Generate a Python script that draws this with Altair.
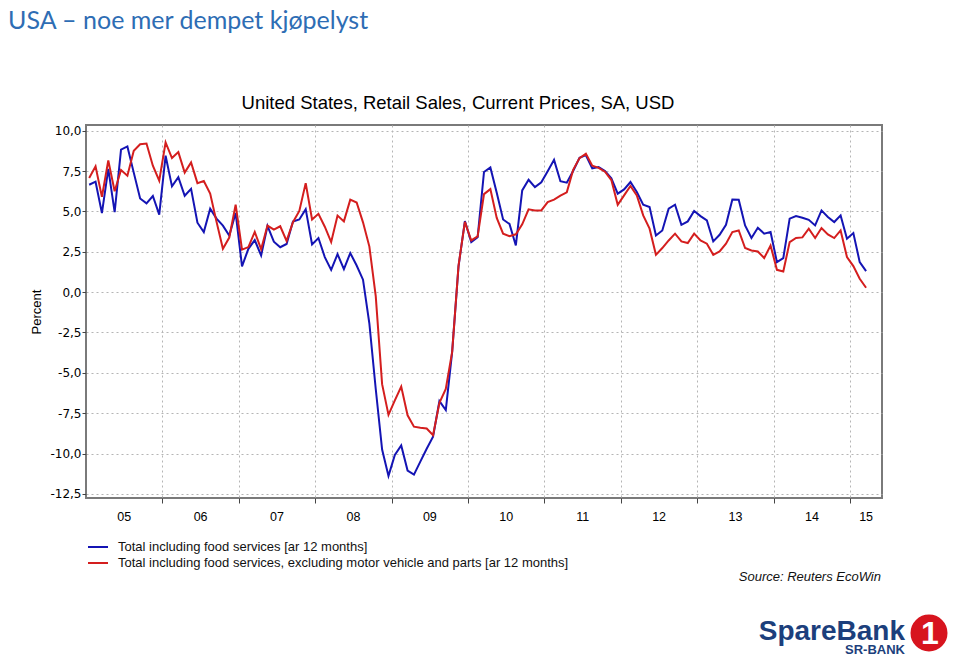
import altair as alt
import pandas as pd

# ---------------- data ----------------
START_YEAR = 2005          # first observation: Jan 2005, monthly
SERIES = [
    "Total including food services [ar 12 months]",
    "Total including food services, excluding motor vehicle and parts [ar 12 months]",
]
total = [
    6.65, 6.84, 4.89, 7.63, 4.95, 8.82, 9.02, 7.40, 5.80, 5.50, 5.95, 4.80,
    8.45, 6.55, 7.12, 5.97, 6.40, 4.30, 3.72, 5.17, 4.55, 4.12, 3.50, 4.90,
    1.60, 2.68, 3.22, 2.27, 4.10, 3.12, 2.78, 2.98, 4.37, 4.50, 5.14, 2.95,
    3.35, 2.17, 1.38, 2.35, 1.43, 2.42, 1.65, 0.77, -1.95, -6.00, -9.75, -11.38,
    -10.08, -9.50, -11.05, -11.30, -10.50, -9.70, -8.95, -6.75, -7.30, -3.70, 1.60, 4.40,
    3.10, 3.40, 7.44, 7.72, 6.15, 4.50, 4.22, 2.89, 6.30, 6.96, 6.50, 6.80,
    7.48, 8.19, 6.87, 6.78, 7.50, 8.32, 8.48, 7.66, 7.75, 7.50, 7.05, 6.10,
    6.36, 6.82, 6.20, 5.41, 5.27, 3.51, 3.82, 5.17, 5.41, 4.17, 4.38, 5.02,
    4.71, 4.44, 3.14, 3.55, 4.17, 5.74, 5.72, 4.13, 3.35, 3.99, 3.62, 3.72,
    1.86, 2.11, 4.55, 4.71, 4.61, 4.48, 4.13, 5.06, 4.65, 4.34, 4.75, 3.31,
    3.66, 1.86, 1.30,
]
ex_auto = [
    7.07, 7.79, 5.90, 8.15, 6.25, 7.56, 7.21, 8.75, 9.16, 9.20, 7.83, 6.90,
    9.27, 8.30, 8.67, 7.40, 8.03, 6.75, 6.88, 6.10, 4.35, 2.68, 3.38, 5.42,
    2.63, 2.79, 3.73, 2.66, 4.12, 3.87, 4.08, 3.17, 4.33, 5.03, 6.75, 4.50,
    4.85, 4.05, 3.10, 4.74, 4.38, 5.73, 5.55, 4.32, 2.82, -0.25, -5.70, -7.60,
    -6.70, -5.85, -7.63, -8.33, -8.40, -8.45, -8.86, -6.85, -6.00, -3.70, 1.64, 4.35,
    3.20, 3.45, 6.07, 6.38, 4.60, 3.62, 3.46, 3.58, 4.20, 5.13, 5.05, 5.06,
    5.58, 5.73, 5.97, 6.18, 7.57, 8.30, 8.57, 7.83, 7.70, 7.46, 6.94, 5.41,
    5.99, 6.57, 5.99, 4.75, 3.93, 2.31, 2.73, 3.20, 3.62, 3.14, 3.04, 3.62,
    3.20, 3.00, 2.31, 2.52, 3.00, 3.72, 3.82, 2.73, 2.58, 2.52, 2.11, 2.89,
    1.38, 1.28, 3.10, 3.35, 3.39, 3.93, 3.35, 3.97, 3.57, 3.35, 3.82, 2.17,
    1.61, 0.83, 0.27,
]
year_labels = ["05", "06", "07", "08", "09", "10", "11", "12", "13", "14", "15"]
y_ticks = [-12.5, -10.0, -7.5, -5.0, -2.5, 0.0, 2.5, 5.0, 7.5, 10.0]

# ---------------- styling ----------------
BLUE = "#1414b4"
RED = "#d41e1e"
FONT = "Liberation Sans"
X_DOMAIN = [2005.0, 2015.0 + 5 / 12]
Y_DOMAIN = [-12.75, 10.35]
W, H = 796, 373

n = len(total)
t = [START_YEAR + (i + 0.5) / 12 for i in range(n)]
df = pd.DataFrame({
    "t": t + t,
    "v": total + ex_auto,
    "s": [SERIES[0]] * n + [SERIES[1]] * n,
})

lines = alt.Chart(df).mark_line(strokeWidth=2).encode(
    x=alt.X("t:Q",
            scale=alt.Scale(domain=X_DOMAIN, nice=False, zero=False),
            axis=alt.Axis(values=list(range(2006, 2016)), labels=False, tickSize=5,
                          tickColor="#444", grid=True, gridDash=[2, 3],
                          gridColor="#b5b5b5", domain=False, title=None)),
    y=alt.Y("v:Q",
            scale=alt.Scale(domain=Y_DOMAIN, nice=False, zero=False),
            axis=alt.Axis(values=y_ticks, tickSize=4, tickColor="#444", labelPadding=1,
                          labelFont="DejaVu Sans", labelFontSize=12,
                          labelExpr="(datum.value < 0 ? '-' : '') + replace(format(abs(datum.value), '.1f'), '.', ',')",
                          grid=True, gridDash=[2, 3], gridColor="#b5b5b5",
                          domain=False, title=None)),
    color=alt.Color("s:N", scale=alt.Scale(domain=SERIES, range=[BLUE, RED]), legend=None),
)

# year labels centred in each year interval (clipped to the axis domain)
lab_pos = [(max(START_YEAR + k, X_DOMAIN[0]) + min(START_YEAR + k + 1, X_DOMAIN[1])) / 2
           for k in range(len(year_labels))]
years = alt.Chart(pd.DataFrame({"lab": year_labels, "pos": lab_pos})).mark_text(
    font=FONT, fontSize=12.5, color="#000", baseline="middle", align="center"
).encode(x=alt.X("pos:Q"), y=alt.value(392), text="lab:N")


def label(text, x, y, **kw):
    return alt.Chart(pd.DataFrame({"s": [text]})).mark_text(**kw).encode(
        text="s:N", x=alt.value(x), y=alt.value(y))


def swatch(y, color):
    return alt.Chart(pd.DataFrame({"a": [0]})).mark_rule(color=color, strokeWidth=2).encode(
        x=alt.value(2), x2=alt.value(22), y=alt.value(y))


headline = label("USA \u2013 noe mer dempet kj\u00f8pelyst", -78, -96, font="Lato", fontSize=25,
                 color="#2e6db4", align="left", baseline="alphabetic")
title = label("United States, Retail Sales, Current Prices, SA, USD", 372, -22, font=FONT,
              fontSize=18.5, color="#000", align="center", baseline="middle")
ytitle = label("Percent", -49, 187, font=FONT, fontSize=13, color="#000", angle=270,
               align="center", baseline="middle")
leg1 = label(SERIES[0], 32, 422, font=FONT, fontSize=13, color="#111", align="left", baseline="middle")
leg2 = label(SERIES[1], 32, 438, font=FONT, fontSize=13, color="#111", align="left", baseline="middle")
source = label("Source: Reuters EcoWin", 795, 452, font=FONT, fontSize=13, fontStyle="italic",
               color="#111", align="right", baseline="middle")
logo1 = label("SpareBank", 819, 515, font=FONT, fontSize=28, fontWeight="bold", color="#1c3f7c",
              align="right", baseline="alphabetic")
logo2 = label("SR-BANK", 819, 525, font=FONT, fontSize=13, fontWeight="bold", color="#1c3f7c",
              align="right", baseline="middle")
circle = alt.Chart(pd.DataFrame({"a": [0]})).mark_point(
    filled=True, shape="circle", color="#d7141e", opacity=1, size=1520,
    stroke="#ffffff", strokeWidth=2).encode(x=alt.value(843), y=alt.value(508))
one = label("1", 844, 509, font=FONT, fontSize=32, fontWeight="bold", color="#ffffff",
            align="center", baseline="middle")

chart = alt.layer(
    lines, years, headline, title, ytitle,
    swatch(422, BLUE), swatch(438, RED), leg1, leg2, source,
    logo1, logo2, circle, one,
).properties(
    width=W, height=H,
    padding={"left": 78, "top": 117, "right": 70, "bottom": 160},
    autosize=alt.AutoSizeParams(type="none"),
    background="#ffffff",
).configure_view(
    stroke="#7a7a7a", strokeWidth=2
).configure_axis(
    labelFont=FONT, labelFontSize=12, labelColor="#000"
)

chart.save("out.html", embed_options={"renderer": "svg", "actions": False})
